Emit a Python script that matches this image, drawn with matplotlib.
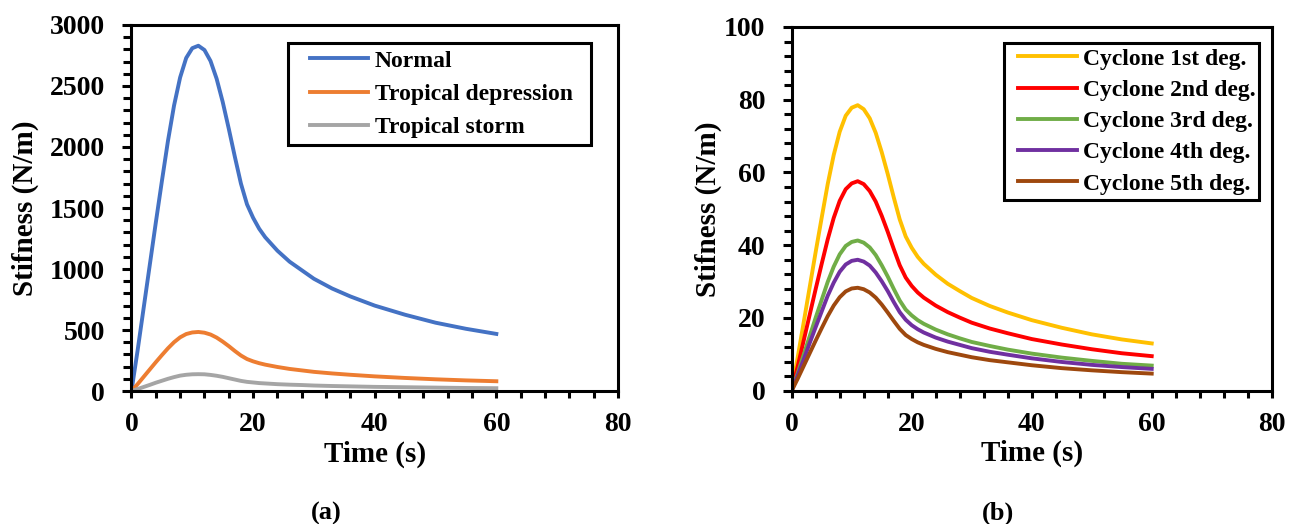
import matplotlib.pyplot as plt
from matplotlib.ticker import MultipleLocator
from matplotlib.lines import Line2D
from matplotlib.legend_handler import HandlerLine2D

plt.rcParams['font.family'] = ['Liberation Serif', 'DejaVu Serif']
plt.rcParams['font.weight'] = 'bold'

# sample times (s)
t = [0, 1, 2, 3, 4, 5, 6, 7, 8, 9, 10, 11, 12, 13, 14, 15, 16, 17, 18, 19, 20, 21, 22,
     24, 26, 28, 30, 33, 36, 40, 45, 50, 55, 60]

# (a) stiffness for weak weather conditions (N/m)
normal = [0, 330, 680, 1030, 1380, 1720, 2050, 2340, 2570, 2730, 2810, 2830, 2795, 2705,
          2560, 2370, 2150, 1920, 1700, 1530, 1420, 1330, 1260,
          1150, 1060, 990, 920, 840, 775, 700, 625, 560, 510, 468]
trop_depression = [0, 56, 116, 176, 236, 294, 350, 400, 440, 467, 480, 484, 478, 463,
                   438, 405, 368, 328, 291, 262, 243, 228, 216,
                   197, 181, 169, 157, 144, 133, 120, 107, 96, 87, 80]
trop_storm = [0, 16, 33, 50, 68, 84, 100, 114, 126, 133, 137, 138, 137, 132,
              125, 116, 105, 94, 83, 75, 70, 65, 62,
              56, 52, 49, 45, 41, 38, 34, 31, 28, 25, 23]

# (b) stiffness for cyclones (N/m)
cyc1 = [0, 9.2, 18.8, 28.5, 38.2, 47.6, 56.8, 64.8, 71.2, 75.6, 77.8, 78.5, 77.4, 74.9,
        70.9, 65.6, 59.6, 53.2, 47.1, 42.4, 39.3, 36.8, 34.9,
        31.9, 29.4, 27.4, 25.5, 23.3, 21.5, 19.4, 17.3, 15.5, 14.1, 13.0]
cyc2 = [0, 6.7, 13.8, 20.9, 28, 34.9, 41.6, 47.5, 52.2, 55.4, 57, 57.6, 56.8, 54.9,
        52, 48.1, 43.7, 39, 34.5, 31.1, 28.8, 27, 25.6,
        23.4, 21.6, 20.1, 18.7, 17.1, 15.8, 14.2, 12.7, 11.4, 10.3, 9.5]
cyc3 = [0, 4.8, 9.9, 15, 20.1, 25, 29.9, 34.1, 37.5, 39.8, 40.9, 41.3, 40.7, 39.4,
        37.3, 34.5, 31.4, 28, 24.8, 22.3, 20.7, 19.4, 18.4,
        16.8, 15.5, 14.4, 13.4, 12.3, 11.3, 10.2, 9.1, 8.2, 7.4, 6.9]
cyc4 = [0, 4.2, 8.6, 13.1, 17.5, 21.8, 26.1, 29.7, 32.7, 34.7, 35.7, 36, 35.5, 34.4,
        32.5, 30.1, 27.4, 24.4, 21.6, 19.5, 18, 16.9, 16,
        14.6, 13.5, 12.6, 11.7, 10.7, 9.9, 8.9, 7.9, 7.1, 6.5, 6.0]
cyc5 = [0, 3.3, 6.8, 10.3, 13.8, 17.2, 20.5, 23.4, 25.7, 27.3, 28.1, 28.3, 27.9, 27,
        25.6, 23.7, 21.5, 19.2, 17, 15.3, 14.2, 13.3, 12.6,
        11.5, 10.6, 9.9, 9.2, 8.4, 7.8, 7, 6.2, 5.6, 5.1, 4.7]

labels_a = ['Normal', 'Tropical depression', 'Tropical storm']
colors_a = ['#4472C4', '#ED7D31', '#A5A5A5']
labels_b = ['Cyclone 1st deg.', 'Cyclone 2nd deg.', 'Cyclone 3rd deg.',
            'Cyclone 4th deg.', 'Cyclone 5th deg.']
colors_b = ['#FFC000', '#FF0000', '#70AD47', '#7030A0', '#9E480E']

fig = plt.figure(figsize=(12.89, 5.24), dpi=100)
ax1 = fig.add_axes([0.1020, 0.2538, 0.3774, 0.6985])
ax2 = fig.add_axes([0.6142, 0.2544, 0.3724, 0.6941])


def style_axes(ax, ymax, ymajor, yminor, ylabel_x):
    ax.set_xlim(0, 80)
    ax.set_ylim(0, ymax)
    ax.xaxis.set_major_locator(MultipleLocator(20))
    ax.xaxis.set_minor_locator(MultipleLocator(4))
    ax.yaxis.set_major_locator(MultipleLocator(ymajor))
    ax.yaxis.set_minor_locator(MultipleLocator(yminor))
    for s in ax.spines.values():
        s.set_linewidth(2.2)
    ax.tick_params(axis='x', which='both', direction='out', length=5, width=2.2,
                   pad=10, labelsize=20)
    ax.tick_params(axis='y', which='major', direction='out', length=6.5, width=2.2,
                   pad=12.5, labelsize=20)
    ax.tick_params(axis='y', which='minor', direction='out', length=5.5, width=2.2)
    ax.set_xlabel('Time (s)', fontsize=21, fontweight='bold')
    ax.set_ylabel('Stifness (N/m)', fontsize=21, fontweight='bold', va='center')
    ax.xaxis.set_label_coords(0.5, -0.135)
    ax.yaxis.set_label_coords(ylabel_x, 0.5)


for y, lab, c in zip([normal, trop_depression, trop_storm], labels_a, colors_a):
    ax1.plot(t, y, color=c, lw=2.8, label=lab, solid_joinstyle='round')
style_axes(ax1, 3000, 500, 100, -0.219)

for y, lab, c in zip([cyc1, cyc2, cyc3, cyc4, cyc5], labels_b, colors_b):
    ax2.plot(t, y, color=c, lw=2.8, label=lab, solid_joinstyle='round')
style_axes(ax2, 100, 20, 4, -0.174)

leg1 = ax1.legend(loc='upper left', bbox_to_anchor=(0.3217, 0.851, 0.623, 0.1),
                  mode='expand', borderaxespad=0, fancybox=False, framealpha=1,
                  edgecolor='black', fontsize=17, borderpad=0.3, labelspacing=0.5,
                  handlelength=3.09, handletextpad=0.3,
                  handler_map={Line2D: HandlerLine2D(xpad=0.64)})
leg1.get_frame().set_linewidth(2.2)

leg2 = ax2.legend(loc='upper left', bbox_to_anchor=(0.4423, 0.856, 0.531, 0.1),
                  mode='expand', borderaxespad=0, fancybox=False, framealpha=1,
                  edgecolor='black', fontsize=17, borderpad=0.22, labelspacing=0.41,
                  handlelength=2.88, handletextpad=0.25,
                  handler_map={Line2D: HandlerLine2D(xpad=0.38)})
leg2.get_frame().set_linewidth(2.2)

fig.text(0.2529, 0.021, '(a)', ha='center', va='center', fontsize=19, fontweight='bold')
fig.text(0.7742, 0.021, '(b)', ha='center', va='center', fontsize=19, fontweight='bold')

fig.savefig('out.png', dpi=100)
